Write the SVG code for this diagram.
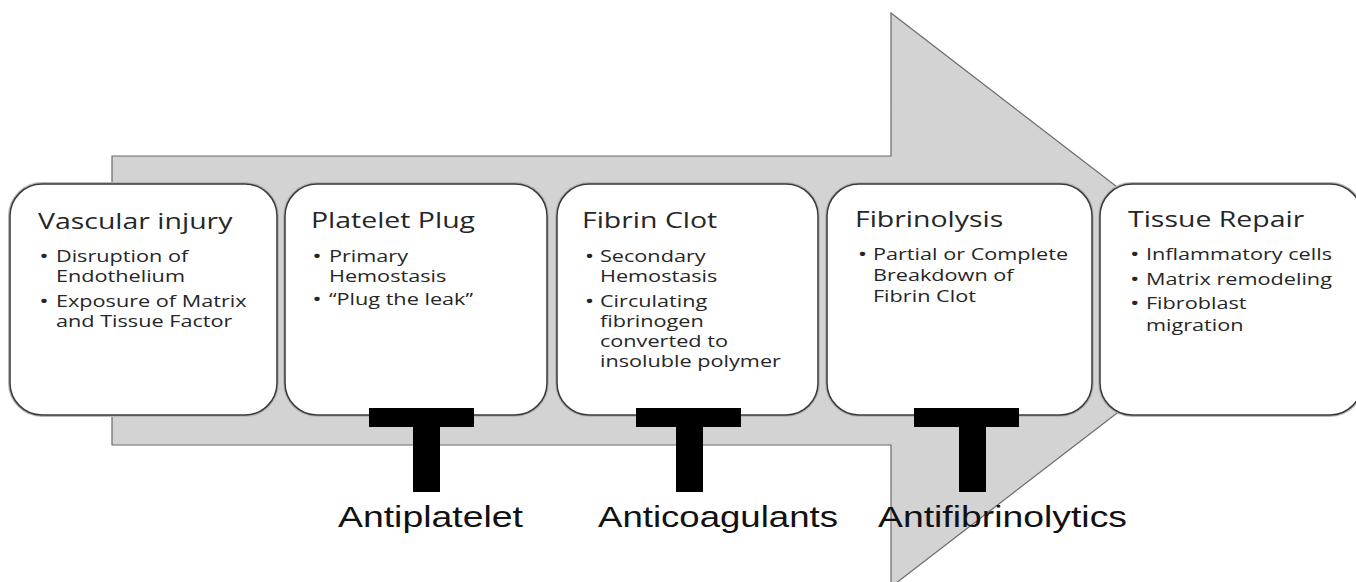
<svg xmlns="http://www.w3.org/2000/svg" width="1356" height="582" viewBox="0 0 1356 582">
  <style>
    .arrow { fill: #d3d3d3; stroke: #6a6a6a; stroke-width: 1.2; }
    .box-halo { fill: none; stroke: #b8b8b8; stroke-width: 4; }
    .box { fill: #ffffff; stroke: #3a3a3a; stroke-width: 1.5; }
    .title { font-family: "Open Sans", "Noto Sans", sans-serif; font-size: 21.4px; fill: #262626; }
    .item { font-family: "Open Sans", "Noto Sans", sans-serif; font-size: 16.3px; fill: #262626; }
    .dot { font-family: "Open Sans", "Noto Sans", sans-serif; font-size: 19px; fill: #262626; }
    .block { fill: #000; }
    .drug { font-family: "Liberation Sans", Arial, sans-serif; font-size: 30px; fill: #111; }
  </style>

  <!-- big process arrow behind the stages -->
  <g id="process-arrow">
    <polygon class="arrow" points="112,156 891,156 891,13 1264,300 891,587 891,445 112,445"/>
  </g>

  <!-- each stage: rounded card, text block widened horizontally -->
  <g id="stage-vascular-injury">
    <rect class="box-halo" x="10" y="184" width="267" height="231" rx="32"/>
    <rect class="box" x="10" y="184" width="267" height="231" rx="32"/>
    <g transform="translate(38 0) scale(1.33 1)">
      <text class="title" x="0" y="229">Vascular injury</text>
      <text class="dot" x="1" y="263">•</text>
      <text class="item" x="13.5" y="262">Disruption of</text>
      <text class="item" x="13.5" y="282">Endothelium</text>
      <text class="dot" x="1" y="308">•</text>
      <text class="item" x="13.5" y="307">Exposure of Matrix</text>
      <text class="item" x="13.5" y="327">and Tissue Factor</text>
    </g>
  </g>

  <g id="stage-platelet-plug">
    <rect class="box-halo" x="285" y="184" width="262" height="231" rx="32"/>
    <rect class="box" x="285" y="184" width="262" height="231" rx="32"/>
    <g transform="translate(311 0) scale(1.33 1)">
      <text class="title" x="0" y="228">Platelet Plug</text>
      <text class="dot" x="1" y="263">•</text>
      <text class="item" x="13.5" y="262">Primary</text>
      <text class="item" x="13.5" y="282">Hemostasis</text>
      <text class="dot" x="1" y="306">•</text>
      <text class="item" x="13.5" y="305">“Plug the leak”</text>
    </g>
  </g>

  <g id="stage-fibrin-clot">
    <rect class="box-halo" x="557" y="184" width="261" height="231" rx="32"/>
    <rect class="box" x="557" y="184" width="261" height="231" rx="32"/>
    <g transform="translate(582 0) scale(1.33 1)">
      <text class="title" x="0" y="228">Fibrin Clot</text>
      <text class="dot" x="2" y="263">•</text>
      <text class="item" x="13.5" y="262">Secondary</text>
      <text class="item" x="13.5" y="282">Hemostasis</text>
      <text class="dot" x="2" y="308">•</text>
      <text class="item" x="13.5" y="307">Circulating</text>
      <text class="item" x="13.5" y="327">fibrinogen</text>
      <text class="item" x="13.5" y="347">converted to</text>
      <text class="item" x="13.5" y="367">insoluble polymer</text>
    </g>
  </g>

  <g id="stage-fibrinolysis">
    <rect class="box-halo" x="827" y="184" width="265" height="231" rx="32"/>
    <rect class="box" x="827" y="184" width="265" height="231" rx="32"/>
    <g transform="translate(855 0) scale(1.33 1)">
      <text class="title" x="0" y="227">Fibrinolysis</text>
      <text class="dot" x="2" y="261">•</text>
      <text class="item" x="13.5" y="260">Partial or Complete</text>
      <text class="item" x="13.5" y="281">Breakdown of</text>
      <text class="item" x="13.5" y="302">Fibrin Clot</text>
    </g>
  </g>

  <g id="stage-tissue-repair">
    <rect class="box-halo" x="1100" y="184" width="262" height="231" rx="32"/>
    <rect class="box" x="1100" y="184" width="262" height="231" rx="32"/>
    <g transform="translate(1128 0) scale(1.33 1)">
      <text class="title" x="0" y="227">Tissue Repair</text>
      <text class="dot" x="1.5" y="261">•</text>
      <text class="item" x="13.5" y="260">Inflammatory cells</text>
      <text class="dot" x="1.5" y="286">•</text>
      <text class="item" x="13.5" y="285">Matrix remodeling</text>
      <text class="dot" x="1.5" y="310">•</text>
      <text class="item" x="13.5" y="309">Fibroblast</text>
      <text class="item" x="13.5" y="331">migration</text>
    </g>
  </g>

  <!-- inhibitor blocks (T bars) -->
  <g id="connectors">
    <g id="block-antiplatelet">
      <rect class="block" x="369" y="408" width="105" height="19"/>
      <rect class="block" x="413" y="408" width="27" height="84"/>
    </g>
    <g id="block-anticoagulants">
      <rect class="block" x="636" y="408" width="105" height="19"/>
      <rect class="block" x="676" y="408" width="27" height="84"/>
    </g>
    <g id="block-antifibrinolytics">
      <rect class="block" x="914" y="408" width="105" height="19"/>
      <rect class="block" x="959" y="408" width="27" height="84"/>
    </g>
  </g>

  <g id="drug-labels">
    <text class="drug" x="338" y="527" textLength="185" lengthAdjust="spacingAndGlyphs">Antiplatelet</text>
    <text class="drug" x="598" y="527" textLength="240" lengthAdjust="spacingAndGlyphs">Anticoagulants</text>
    <text class="drug" x="878" y="527" textLength="249" lengthAdjust="spacingAndGlyphs">Antifibrinolytics</text>
  </g>
</svg>
